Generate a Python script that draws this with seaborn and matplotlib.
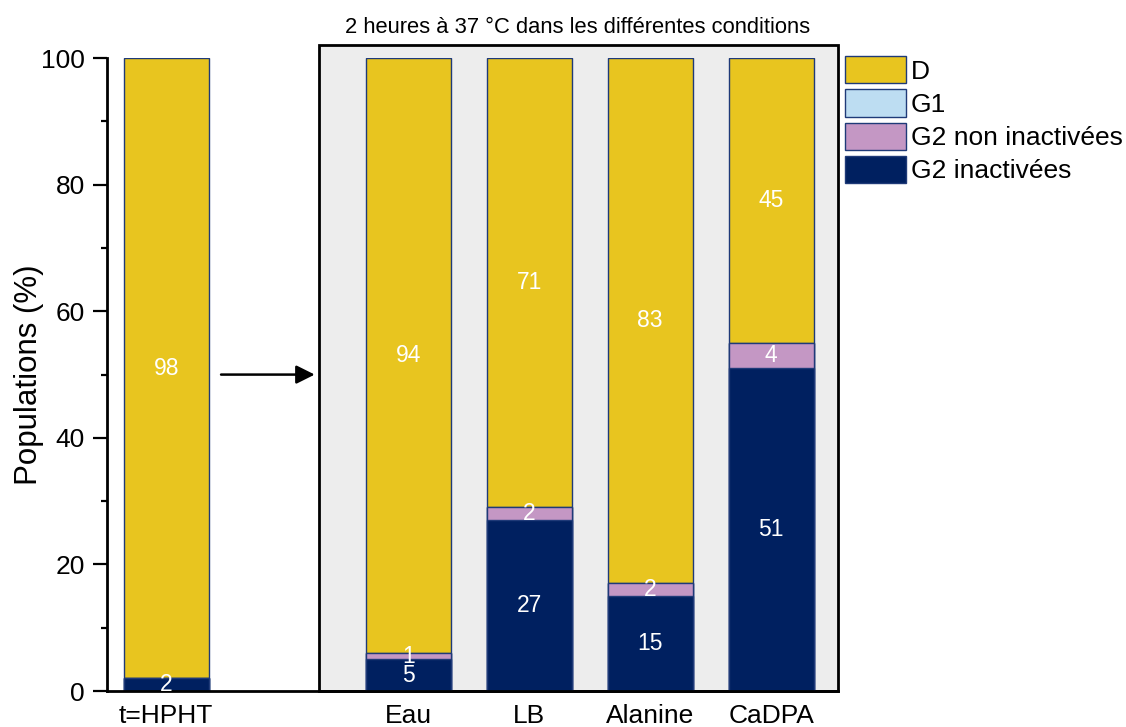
import matplotlib
matplotlib.use("Agg")
import matplotlib.pyplot as plt
from matplotlib.patches import Patch, Rectangle
from matplotlib.ticker import MultipleLocator
import pandas as pd
import seaborn as sns

# values (%)
conditions = ['t=HPHT', 'Eau', 'LB', 'Alanine', 'CaDPA']
g2_inact = [2, 5, 27, 15, 51]
g2_non_inact = [0, 1, 2, 2, 4]
g1 = [0, 0, 0, 0, 0]
dormant = [98, 94, 71, 83, 45]

series_names = ['D', 'G1', 'G2 non inactivées', 'G2 inactivées']
colors = {'D': '#E8C51F', 'G1': '#BDDDF2',
          'G2 non inactivées': '#C497C4', 'G2 inactivées': '#002060'}
edge = '#1F3A78'

sns.set_style('ticks')
plt.rcParams['font.family'] = ['Liberation Sans', 'DejaVu Sans']
plt.rcParams.update({'text.color': 'black', 'axes.labelcolor': 'black',
                     'xtick.color': 'black', 'ytick.color': 'black',
                     'axes.edgecolor': 'black'})

df = pd.DataFrame({'cond': conditions, 'G2 inactivées': g2_inact,
                   'G2 non inactivées': g2_non_inact, 'G1': g1, 'D': dormant})
df['c1'] = df['G2 inactivées']
df['c2'] = df['c1'] + df['G2 non inactivées']
df['c3'] = df['c2'] + df['G1']
df['c4'] = df['c3'] + df['D']

order = ['t=HPHT', ' ', 'Eau', 'LB', 'Alanine', 'CaDPA']
pos = {c: order.index(c) for c in conditions}

fig = plt.figure(figsize=(11.26, 7.27), dpi=100)
ax = fig.add_axes([0.095, 0.0495, 0.649, 0.8705])

# grey frame around the 2 h conditions
ax.add_patch(Rectangle((1.26, 0), 5.55 - 1.26, 102.1, facecolor='#EDEDED',
                       edgecolor='black', linewidth=2, clip_on=False, zorder=0))

# stacked bars: draw cumulative totals from top to bottom
for col, name in [('c4', 'D'), ('c3', 'G1'), ('c2', 'G2 non inactivées'),
                  ('c1', 'G2 inactivées')]:
    sns.barplot(data=df, x='cond', y=col, order=order, color=colors[name],
                edgecolor=edge, linewidth=1, width=0.7, saturation=1,
                errorbar=None, ax=ax, zorder=2)

# segment labels
for _, r in df.iterrows():
    x = pos[r['cond']]
    base = 0
    for name in ['G2 inactivées', 'G2 non inactivées', 'G1', 'D']:
        v = r[name]
        if v > 0:
            ax.text(x, base + v / 2, f'{v:g}', color='white', fontsize=16.5,
                    ha='center', va='center', zorder=5)
        base += v

ax.annotate('', xy=(1.25, 50), xytext=(0.43, 50),
            arrowprops=dict(arrowstyle='-|>', color='black', lw=1.8,
                            mutation_scale=28))
ax.text(3.40, 104.9, '2 heures à 37 °C dans les différentes conditions',
        ha='center', va='center', fontsize=15.8)

ax.set_xlim(-0.49, 5.55)
ax.set_ylim(0, 100)
ax.yaxis.set_major_locator(MultipleLocator(20))
ax.yaxis.set_minor_locator(MultipleLocator(10))
ax.tick_params(axis='y', which='major', length=10, width=1.6, labelsize=19,
               pad=6)
ax.tick_params(axis='y', which='minor', length=4.5, width=1.6)
ax.tick_params(axis='x', length=0, labelsize=19, pad=9)
ax.set_xticks(range(len(order)))
ax.set_xticklabels(['t=HPHT', '', 'Eau', 'LB', 'Alanine', 'CaDPA'])
ax.set_xlabel('')
ax.set_ylabel('Populations (%)', fontsize=22.5, labelpad=-2)
for s in ['top', 'right']:
    ax.spines[s].set_visible(False)
for s in ['left', 'bottom']:
    ax.spines[s].set_linewidth(2)
ax.patch.set_alpha(0)

handles = [Patch(facecolor=colors[n], edgecolor=edge, linewidth=1, label=n)
           for n in series_names]
ax.legend(handles=handles, loc='upper left', bbox_to_anchor=(1.01, 1.003),
          frameon=False, fontsize=19, handlelength=2.3, handleheight=1.2,
          labelspacing=0.22, handletextpad=0.2, borderpad=0, borderaxespad=0)

fig.savefig('out.png', dpi=100)
